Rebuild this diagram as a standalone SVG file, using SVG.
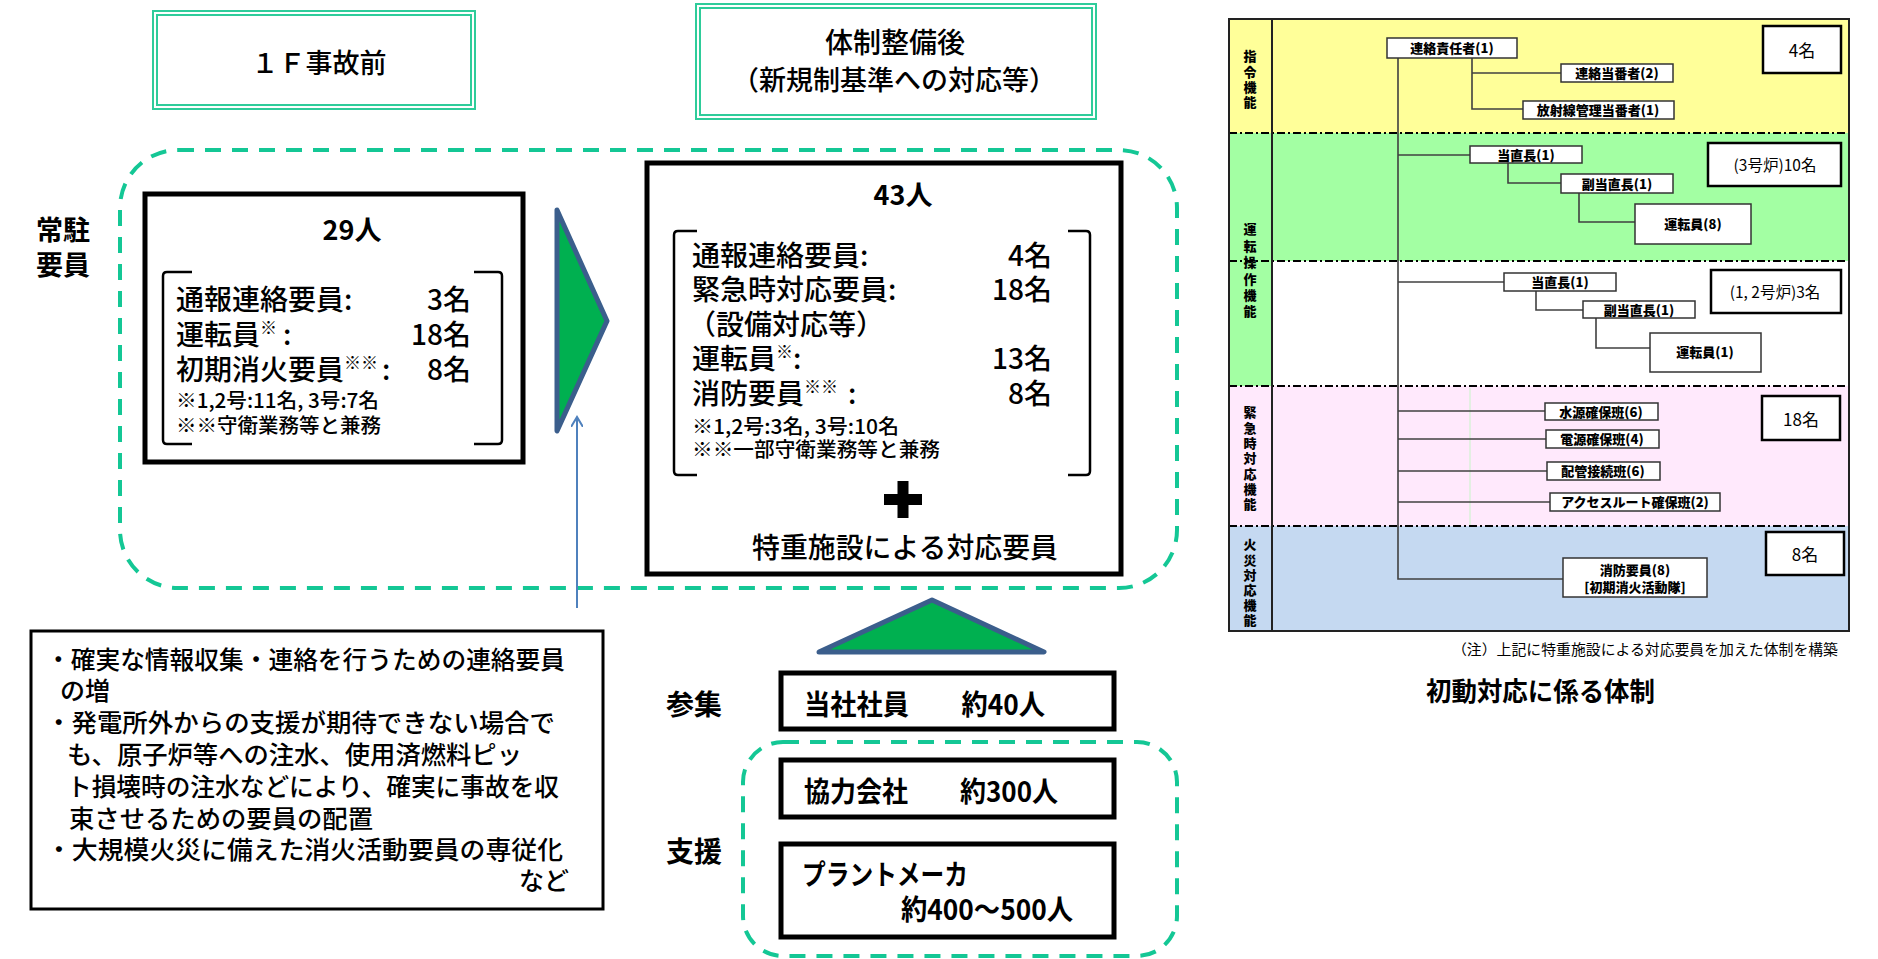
<svg xmlns="http://www.w3.org/2000/svg" width="1878" height="959" viewBox="0 0 1878 959">
<style>
text{font-family:"Noto Sans CJK JP","Noto Sans",sans-serif;fill:#000}
.t28{font-size:28px;font-weight:500}
.t27{font-size:27px;font-weight:500}
.b{font-weight:bold}
.s20{font-size:20px;font-weight:500}
.tb{fill:none;stroke:#2ECC9A;stroke-width:2}
.dash{fill:none;stroke:#14C795;stroke-width:4;stroke-dasharray:16 11}
.thick{fill:#fff;stroke:#000;stroke-width:5}
.brk{fill:none;stroke:#000;stroke-width:2.5}
.tri{fill:#00B050;stroke:#3B5E8C;stroke-width:5;stroke-linejoin:round}
.ob{fill:#fff;stroke:#333;stroke-width:1.5}
.cb{fill:#fff;stroke:#000;stroke-width:2.5}
.ol{font-size:13px;font-weight:900;text-anchor:middle}
.vl{font-size:13px;font-weight:900;writing-mode:vertical-rl;text-anchor:start}
.cn{font-size:17px;text-anchor:middle}
.ln{fill:none;stroke:#404040;stroke-width:1.6}
.dd{fill:none;stroke:#000;stroke-width:2;stroke-dasharray:8 3 2 3}
.bl{font-size:25px;font-weight:500}
</style>
<defs>
<marker id="openArrow" markerWidth="12" markerHeight="12" refX="10" refY="6" orient="auto" markerUnits="userSpaceOnUse">
<polyline points="0,0 10,6 0,12" fill="none" stroke="#4F81BD" stroke-width="2"/>
</marker>
</defs>

<!-- Titles -->
<g id="title-before">
<rect x="153" y="11" width="322" height="98" class="tb"/>
<rect x="157" y="15" width="314" height="90" class="tb"/>
<text x="319" y="73" class="t27" text-anchor="middle">１Ｆ事故前</text>
</g>
<g id="title-after">
<rect x="696" y="4" width="400" height="115" class="tb"/>
<rect x="700" y="8" width="392" height="107" class="tb"/>
<text x="895" y="53" class="t28" text-anchor="middle">体制整備後</text>
<text x="894" y="90" class="t27" text-anchor="middle">（新規制基準への対応等）</text>
</g>

<!-- Big dashed group -->
<g id="resident-group">
<rect x="120" y="150" width="1057" height="438" rx="58" class="dash"/>
<text x="36" y="240" class="t27 b">常駐</text>
<text x="36" y="275" class="t27 b">要員</text>
</g>

<g id="box-29">
<rect x="145" y="194" width="378" height="268" class="thick"/>
<text x="352" y="240" class="t27 b" text-anchor="middle">29人</text>
<path class="brk" d="M192,272 L167,272 Q163,272 163,276 L163,440 Q163,444 167,444 L192,444"/>
<path class="brk" d="M474,272 L498,272 Q502,272 502,276 L502,440 Q502,444 498,444 L474,444"/>
<text x="176" y="310" class="t28">通報連絡要員:</text>
<text x="471" y="310" class="t28" text-anchor="end">3名</text>
<text x="176" y="345" class="t28">運転員<tspan font-size="17" dy="-11">※</tspan><tspan dy="11" dx="6">:</tspan></text>
<text x="471" y="345" class="t28" text-anchor="end">18名</text>
<text x="176" y="380" class="t28">初期消火要員<tspan font-size="17" dy="-11">※※</tspan><tspan dy="11" dx="4">:</tspan></text>
<text x="471" y="380" class="t28" text-anchor="end">8名</text>
<text x="176" y="408" class="s20" textLength="203" lengthAdjust="spacingAndGlyphs">※1,2号:11名, 3号:7名</text>
<text x="176" y="433" class="s20" textLength="205" lengthAdjust="spacingAndGlyphs">※※守衛業務等と兼務</text>
</g>

<g id="arrow-right">
<polygon class="tri" points="557,210 607,321 557,431"/>
</g>

<g id="box-43">
<rect x="647" y="163" width="474" height="411" class="thick"/>
<text x="903" y="205" class="t27 b" text-anchor="middle">43人</text>
<path class="brk" d="M697,231 L678,231 Q674,231 674,235 L674,471 Q674,475 678,475 L697,475"/>
<path class="brk" d="M1068,231 L1086,231 Q1090,231 1090,235 L1090,471 Q1090,475 1086,475 L1068,475"/>
<text x="692" y="266" class="t28">通報連絡要員:</text>
<text x="1052" y="266" class="t28" text-anchor="end">4名</text>
<text x="692" y="300" class="t28">緊急時対応要員:</text>
<text x="1052" y="300" class="t28" text-anchor="end">18名</text>
<text x="688" y="335" class="t28">（設備対応等）</text>
<text x="692" y="369" class="t28">運転員<tspan font-size="17" dy="-11">※</tspan><tspan dy="11">:</tspan></text>
<text x="1052" y="369" class="t28" text-anchor="end">13名</text>
<text x="692" y="404" class="t28">消防要員<tspan font-size="17" dy="-11">※※</tspan><tspan dy="11" dx="10">:</tspan></text>
<text x="1052" y="404" class="t28" text-anchor="end">8名</text>
<text x="692" y="434" class="s20" textLength="207" lengthAdjust="spacingAndGlyphs">※1,2号:3名, 3号:10名</text>
<text x="692" y="457" class="s20" textLength="248" lengthAdjust="spacingAndGlyphs">※※一部守衛業務等と兼務</text>
<rect x="884" y="494" width="38" height="11" fill="#000"/>
<rect x="897.5" y="481" width="11" height="37" fill="#000"/>
<text x="752" y="558" class="t28" textLength="306" lengthAdjust="spacingAndGlyphs">特重施設による対応要員</text>
</g>

<!-- Notes box -->
<g id="notes">
<rect x="31" y="631" width="572" height="278" fill="#fff" stroke="#000" stroke-width="3"/>
<text x="46" y="669" class="bl" textLength="519" lengthAdjust="spacingAndGlyphs">・確実な情報収集・連絡を行うための連絡要員</text>
<text x="60" y="700" class="bl">の増</text>
<text x="46" y="732" class="bl" textLength="509" lengthAdjust="spacingAndGlyphs">・発電所外からの支援が期待できない場合で</text>
<text x="67" y="764" class="bl" textLength="455" lengthAdjust="spacingAndGlyphs">も、原子炉等への注水、使用済燃料ピッ</text>
<text x="67" y="796" class="bl" textLength="492" lengthAdjust="spacingAndGlyphs">ト損壊時の注水などにより、確実に事故を収</text>
<text x="69" y="828" class="bl" textLength="304" lengthAdjust="spacingAndGlyphs">束させるための要員の配置</text>
<text x="46" y="859" class="bl" textLength="517" lengthAdjust="spacingAndGlyphs">・大規模火災に備えた消火活動要員の専従化</text>
<text x="569" y="890" class="bl" text-anchor="end">など</text>
</g>

<g id="arrow-up">
<polygon class="tri" points="819,652 932,600 1044,652"/>
</g>

<g id="labels-support">
<text x="666" y="715" class="t28 b">参集</text>
<text x="666" y="862" class="t28 b">支援</text>
</g>

<g id="box-company">
<rect x="781" y="673" width="333" height="56" class="thick"/>
<text x="804" y="715" class="t28 b" textLength="241" lengthAdjust="spacingAndGlyphs">当社社員　　約40人</text>
</g>
<g id="support-group">
<rect x="743" y="742" width="434" height="214" rx="40" class="dash"/>
</g>
<g id="box-partner">
<rect x="781" y="760" width="333" height="57" class="thick"/>
<text x="804" y="802" class="t28 b" textLength="254" lengthAdjust="spacingAndGlyphs">協力会社　　約300人</text>
</g>
<g id="box-maker">
<rect x="781" y="844" width="333" height="93" class="thick"/>
<text x="802" y="885" class="t28 b" textLength="166" lengthAdjust="spacingAndGlyphs">プラントメーカ</text>
<text x="901" y="920" class="t28 b" textLength="172" lengthAdjust="spacingAndGlyphs">約400～500人</text>
</g>

<!-- Connectors (left side) -->
<g id="connectors">
<line x1="577" y1="608" x2="577" y2="417" stroke="#4F81BD" stroke-width="2" marker-end="url(#openArrow)"/>
</g>

<!-- Org chart -->
<g id="org-chart">
<rect x="1229" y="19" width="620" height="114" fill="#FFFF99"/>
<rect x="1229" y="133" width="620" height="128" fill="#A3FFA3"/>
<rect x="1229" y="261" width="620" height="125" fill="#FFFFFF"/>
<rect x="1229" y="261" width="43" height="125" fill="#A3FFA3"/>
<rect x="1229" y="386" width="620" height="140" fill="#FFE9FC"/>
<rect x="1229" y="526" width="620" height="105" fill="#C5D9F1"/>
<line x1="1470" y1="388" x2="1470" y2="525" stroke="#C8F5C8" stroke-width="1"/>
<line x1="1229" y1="133" x2="1849" y2="133" class="dd"/>
<line x1="1229" y1="261" x2="1849" y2="261" class="dd"/>
<line x1="1229" y1="386" x2="1849" y2="386" class="dd"/>
<line x1="1229" y1="526" x2="1849" y2="526" class="dd"/>
<rect x="1229" y="19" width="620" height="612" fill="none" stroke="#222" stroke-width="2"/>
<line x1="1272" y1="19" x2="1272" y2="631" stroke="#222" stroke-width="2"/>
</g>

<g id="org-labels">
<text x="1250" y="50" class="vl" style="letter-spacing:2.3px">指令機能</text>
<text x="1250" y="223" class="vl" style="letter-spacing:3.4px">運転操作機能</text>
<text x="1250" y="406" class="vl" style="letter-spacing:2.3px">緊急時対応機能</text>
<text x="1250" y="538" class="vl" style="letter-spacing:2.2px">火災対応機能</text>
</g>

<g id="org-connectors">
<polyline class="ln" points="1398,58 1398,579 1563,579"/>
<polyline class="ln" points="1472,58 1472,109 1523,109"/>
<line class="ln" x1="1472" y1="73" x2="1561" y2="73"/>
<line class="ln" x1="1398" y1="155" x2="1470" y2="155"/>
<polyline class="ln" points="1508,163 1508,183 1561,183"/>
<polyline class="ln" points="1579,193 1579,222 1635,222"/>
<line class="ln" x1="1398" y1="282" x2="1504" y2="282"/>
<polyline class="ln" points="1536,291 1536,310 1583,310"/>
<polyline class="ln" points="1596,318 1596,348 1650,348"/>
<line class="ln" x1="1398" y1="411" x2="1545" y2="411"/>
<line class="ln" x1="1398" y1="439" x2="1546" y2="439"/>
<line class="ln" x1="1398" y1="471" x2="1547" y2="471"/>
<line class="ln" x1="1398" y1="502" x2="1550" y2="502"/>
</g>

<g id="n-renraku-sekinin"><rect x="1387" y="38" width="130" height="20" class="ob"/><text x="1452" y="53" class="ol">連絡責任者(1)</text></g>
<g id="n-renraku-toban"><rect x="1561" y="64" width="112" height="18" class="ob"/><text x="1617" y="78" class="ol">連絡当番者(2)</text></g>
<g id="n-hoshasen"><rect x="1523" y="101" width="151" height="18" class="ob"/><text x="1598" y="115" class="ol">放射線管理当番者(1)</text></g>
<g id="n-tochoku3"><rect x="1470" y="146" width="112" height="17" class="ob"/><text x="1526" y="159.5" class="ol">当直長(1)</text></g>
<g id="n-fuku3"><rect x="1561" y="174" width="112" height="19" class="ob"/><text x="1617" y="188.5" class="ol">副当直長(1)</text></g>
<g id="n-unten8"><rect x="1635" y="204" width="116" height="40" class="ob"/><text x="1693" y="229" class="ol">運転員(8)</text></g>
<g id="n-tochoku12"><rect x="1504" y="273" width="112" height="18" class="ob"/><text x="1560" y="287" class="ol">当直長(1)</text></g>
<g id="n-fuku12"><rect x="1583" y="301" width="112" height="17" class="ob"/><text x="1639" y="314.5" class="ol">副当直長(1)</text></g>
<g id="n-unten1"><rect x="1650" y="333" width="111" height="39" class="ob"/><text x="1705" y="357" class="ol">運転員(1)</text></g>
<g id="n-suigen"><rect x="1545" y="403" width="113" height="17" class="ob"/><text x="1601" y="416.5" class="ol">水源確保班(6)</text></g>
<g id="n-dengen"><rect x="1546" y="430" width="113" height="18" class="ob"/><text x="1602" y="444" class="ol">電源確保班(4)</text></g>
<g id="n-haikan"><rect x="1547" y="462" width="113" height="18" class="ob"/><text x="1603" y="476" class="ol">配管接続班(6)</text></g>
<g id="n-access"><rect x="1550" y="493" width="170" height="18" class="ob"/><text x="1635" y="507" class="ol">アクセスルート確保班(2)</text></g>
<g id="n-shobo"><rect x="1563" y="558" width="144" height="39" class="ob"/><text x="1635" y="575" class="ol">消防要員(8)</text><text x="1635" y="592" class="ol">[初期消火活動隊]</text></g>

<g id="c-4"><rect x="1763" y="26" width="78" height="47" class="cb"/><text x="1802" y="57" class="cn">4名</text></g>
<g id="c-10"><rect x="1708" y="143" width="133" height="43" class="cb"/><text x="1775" y="171" class="cn" style="font-size:15.5px">(3号炉)10名</text></g>
<g id="c-3"><rect x="1711" y="270" width="130" height="43" class="cb"/><text x="1775" y="298" class="cn" style="font-size:15.5px">(1, 2号炉)3名</text></g>
<g id="c-18"><rect x="1762" y="396" width="78" height="44" class="cb"/><text x="1801" y="426" class="cn">18名</text></g>
<g id="c-8"><rect x="1766" y="532" width="78" height="43" class="cb"/><text x="1805" y="561" class="cn">8名</text></g>

<g id="org-caption">
<text x="1838" y="655" font-size="14.5" text-anchor="end" textLength="386" lengthAdjust="spacingAndGlyphs">（注）上記に特重施設による対応要員を加えた体制を構築</text>
<text x="1426" y="701" font-size="26" font-weight="bold" textLength="229" lengthAdjust="spacingAndGlyphs">初動対応に係る体制</text>
</g>
</svg>
